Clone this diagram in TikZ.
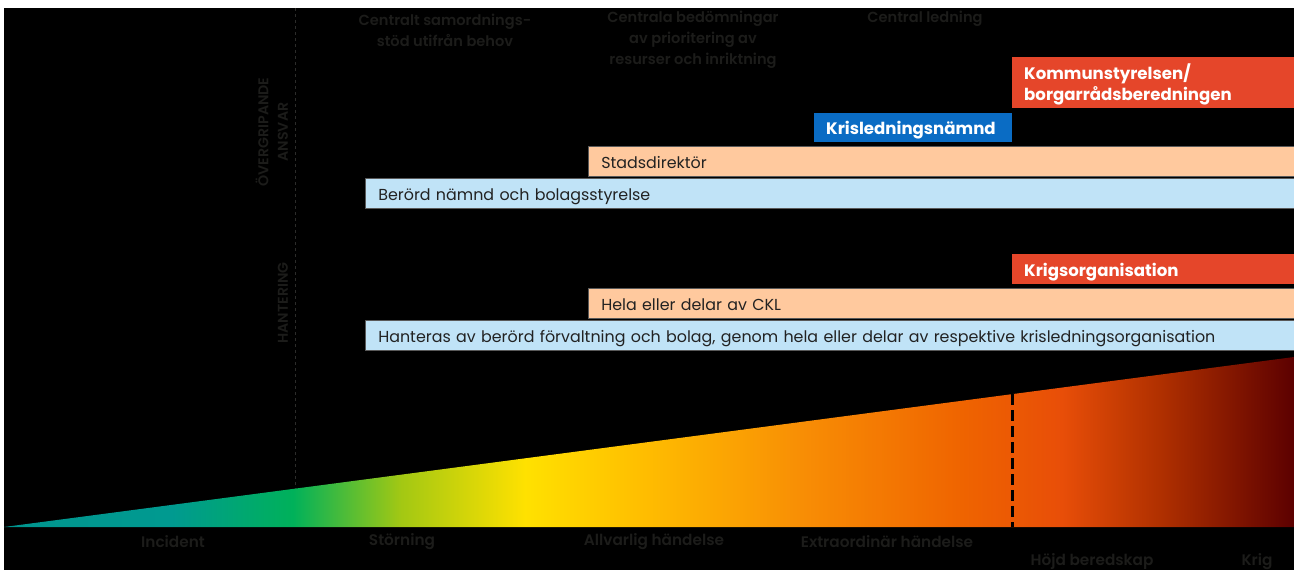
\documentclass[tikz,border=0pt]{standalone}
\usepackage{fontspec}
\setmainfont{Poppins}
\newfontfamily\popsemi{Poppins SemiBold}

\definecolor{ink}{HTML}{1C1C1A}
\definecolor{rule}{HTML}{2C2C2A}
\definecolor{krisred}{HTML}{E5462A}
\definecolor{krisblue}{HTML}{0A6CC4}
\definecolor{peach}{HTML}{FFC99E}
\definecolor{skyblue}{HTML}{C0E3F7}
\definecolor{bartext}{HTML}{222222}

% heat scale: the middle 50bp is stretched over the wedge
\definecolor{h0}{HTML}{00958F}
\definecolor{h1}{HTML}{009A90}
\definecolor{h2}{HTML}{00B15A}
\definecolor{h3}{HTML}{A3C813}
\definecolor{h4}{HTML}{FFE100}
\definecolor{h5}{HTML}{FFBE00}
\definecolor{h6}{HTML}{F88E05}
\definecolor{h7}{HTML}{EF6400}
\definecolor{h8}{HTML}{E84E08}
\definecolor{h9}{HTML}{B03000}
\definecolor{h10}{HTML}{5C0000}
\pgfdeclarehorizontalshading{heat}{100bp}{%
  color(0bp)=(h0); color(25bp)=(h0);
  color(31.5bp)=(h1); color(36.2bp)=(h2); color(40.4bp)=(h3);
  color(45.2bp)=(h4); color(49.7bp)=(h5); color(55.9bp)=(h6);
  color(62.1bp)=(h7); color(66bp)=(h8); color(69.8bp)=(h9);
  color(75bp)=(h10); color(100bp)=(h10)}

\tikzset{
  bar/.style={anchor=north west, inner xsep=13pt, inner ysep=0pt, align=left,
    draw=black!65, line width=0.6pt, text=bartext,
    text height=14pt, text depth=0pt,
    font=\fontsize{15.9}{18}\selectfont},
  lead/.style={anchor=north west, inner xsep=12pt, inner ysep=0pt, align=left,
    text=white, text height=14pt, text depth=0pt,
    font=\fontsize{16.6}{21}\selectfont\bfseries},
  head/.style={text=ink, align=center, font=\popsemi\fontsize{14.6}{21}\selectfont},
  level/.style={text=ink, font=\popsemi\fontsize{15.3}{18}\selectfont},
  side/.style={text=ink, rotate=90, font=\popsemi\fontsize{14.2}{14}\selectfont},
}

\begin{document}
\begin{tikzpicture}[x=1pt,y=-1pt]
\useasboundingbox (0,0) rectangle (1294,570);
\fill[white] (0,0) rectangle (1294,570);
\fill[black] (4,8) rectangle (1294,570);

% divider between the side headings and the bars
\coordinate (divtop) at (295,8);
\coordinate (divbot) at (295,490);
\draw[rule, line width=0.8pt, dash pattern=on 3pt off 3pt] (divtop) -- (divbot);

% column headings
\node[head] (h1) at (445,30) {Centralt samordnings-\\stöd utifrån behov};
\node[head] (h2) at (693,40) {Centrala bedömningar\\av prioritering av\\resurser och inriktning};
\node[head] (h3) at (925,19) {Central ledning};

% side headings
\node[side] (s1) at (262,132) {ÖVERGRIPANDE};
\node[side] (s2) at (283,132) {ANSVAR};
\node[side] (s3) at (283,303) {HANTERING};

% overarching responsibility
\node[lead, fill=krisred, text width=258pt, minimum height=51pt,
      text height=18pt, text depth=25pt] (ks) at (1012,57)
  {Kommunstyrelsen/\\borgarrådsberedningen};
\node[lead, fill=krisblue, text width=174pt, minimum height=29pt] (kn) at (814,113)
  {Krisledningsnämnd};
\node[bar, fill=peach, text width=680pt, minimum height=30pt] (sd) at (588,146)
  {Stadsdirektör};
\node[bar, fill=skyblue, text width=903pt, minimum height=30pt] (bn) at (365,178)
  {Berörd nämnd och bolagsstyrelse};

% handling
\node[lead, fill=krisred, text width=258pt, minimum height=30pt] (ko) at (1012,254)
  {Krigsorganisation};
\node[bar, fill=peach, text width=680pt, minimum height=30pt] (ckl) at (588,288)
  {Hela eller delar av CKL};
\node[bar, fill=skyblue, text width=903pt, minimum height=30pt] (hf) at (365,320)
  {Hanteras av berörd förvaltning och bolag, genom hela eller delar av respektive krisledningsorganisation};

% escalation wedge
\coordinate (wl) at (4,527);
\coordinate (wt) at (1294,357);
\coordinate (wr) at (1294,527);
\path[shading=heat] (wl) -- (wt) -- (wr) -- cycle;

% threshold to heightened readiness
\coordinate (ttop) at (1012,394);
\coordinate (tbot) at (1012,527);
\draw[black, line width=3pt, dash pattern=on 11pt off 5pt] (ttop) -- (tbot);

% levels
\node[level] (l1) at (173,542) {Incident};
\node[level] (l2) at (402,542) {Störning};
\node[level] (l3) at (654,542) {Allvarlig händelse};
\node[level] (l4) at (887,542) {Extraordinär händelse};
\node[level] (l5) at (1092,562) {Höjd beredskap};
\node[level] (l6) at (1257,562) {Krig};
\end{tikzpicture}
\end{document}
